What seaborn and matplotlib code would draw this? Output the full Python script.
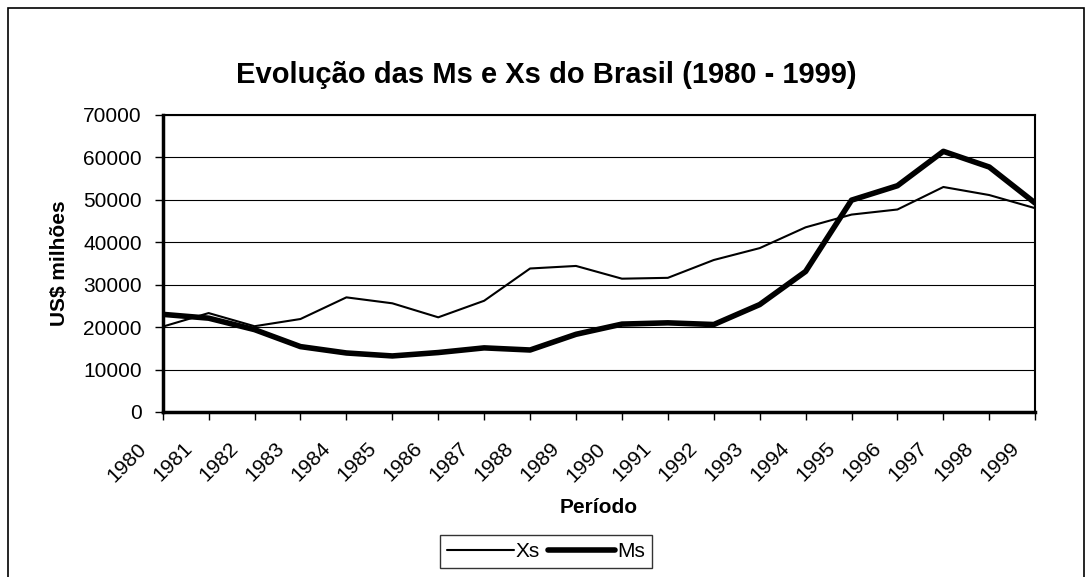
import pandas as pd
import seaborn as sns
import matplotlib.pyplot as plt
import matplotlib.transforms as mtransforms
from matplotlib.patches import Rectangle

years = list(range(1980, 2000))
xs = [20100, 23300, 20200, 21900, 27000, 25600, 22300, 26200, 33800, 34400,
      31400, 31600, 35800, 38600, 43500, 46500, 47700, 53000, 51100, 48000]
ms = [23000, 22100, 19400, 15400, 13900, 13200, 14000, 15100, 14600, 18300,
      20700, 21000, 20600, 25300, 33100, 49900, 53300, 61400, 57700, 49200]

df = pd.DataFrame({'ano': years, 'Xs': xs, 'Ms': ms})

sns.set_style('white')
plt.rcParams['font.family'] = ['Liberation Sans', 'DejaVu Sans']
plt.rcParams['text.color'] = 'black'
plt.rcParams['xtick.color'] = 'black'
plt.rcParams['ytick.color'] = 'black'
plt.rcParams['axes.labelcolor'] = 'black'

fig = plt.figure(figsize=(10.92, 5.77), dpi=100)
ax = fig.add_axes([0.149, 0.286, 0.799, 0.515])

sns.lineplot(data=df, x='ano', y='Xs', color='black', linewidth=1.5,
             label='Xs', legend=False, ax=ax)
sns.lineplot(data=df, x='ano', y='Ms', color='black', linewidth=4,
             label='Ms', legend=False, ax=ax)

ax.set_xlim(1980, 1999)
ax.set_ylim(0, 70000)
ax.set_yticks(range(0, 70001, 10000))
ax.set_xticks(years)
ax.set_xticklabels([str(y) for y in years], rotation=45, ha='right',
                   rotation_mode='anchor', fontsize=15)
ax.tick_params(axis='y', labelsize=15, pad=9)
ax.tick_params(axis='x', pad=12)
ax.tick_params(axis='both', direction='out', length=6, width=1,
               color='black', bottom=True, left=True)
# shift the year labels a bit to the left, like the original
shift = mtransforms.ScaledTranslation(-0.26, -0.02, fig.dpi_scale_trans)
for lab in ax.get_xticklabels():
    lab.set_transform(lab.get_transform() + shift)
ax.grid(axis='y', color='black', linewidth=0.8)
for s in ax.spines.values():
    s.set_color('black')
    s.set_linewidth(1.5)
ax.spines['bottom'].set_linewidth(2.5)
ax.spines['left'].set_linewidth(2.5)

ax.set_xlabel('Período', fontsize=15, fontweight='bold', labelpad=9)
ax.set_ylabel('US$ milhões', fontsize=15, fontweight='bold', labelpad=10)
fig.suptitle('Evolução das Ms e Xs do Brasil (1980 - 1999)', x=0.5, y=0.87,
             va='center', fontsize=21, fontweight='bold')

handles, labels = ax.get_legend_handles_labels()
fig.legend(handles, labels, loc='lower center', bbox_to_anchor=(0.5, -0.003),
           ncol=2, frameon=True, fancybox=False, edgecolor='black',
           fontsize=15, handlelength=3.2, handletextpad=0.1,
           columnspacing=0.4, borderpad=0.35)

fig.patches.append(Rectangle((0.007, -0.01), 0.986, 0.996,
                             transform=fig.transFigure, fill=False,
                             edgecolor='black', linewidth=1.2))

fig.savefig('out.png', dpi=100)
